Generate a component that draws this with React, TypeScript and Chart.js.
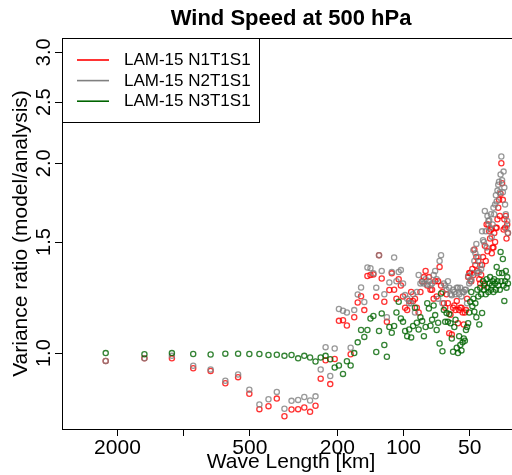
import React, { useEffect, useRef } from "react";
import { Chart, registerables } from "chart.js";

Chart.register(...registerables);

// Spectral wavenumbers of the LAM domain and the domain length (km)
const DOMAIN_KM = 4524;
const wavenumbers = [
  2, 3, 4, 5, 6, 7, 8, 9, 10,
  11, 12, 13, 14, 15, 16, 17, 18, 19, 20,
  21, 22, 23, 24, 25, 26, 27, 28, 29, 30,
  31, 32, 33, 34, 35, 36, 37, 38, 39, 40,
  41, 42, 43, 44, 45, 46, 47, 48, 49, 50,
  51, 52, 53, 54, 55, 56, 57, 58, 59, 60,
  61, 62, 63, 64, 65, 66, 67, 68, 69, 70,
  71, 72, 73, 74, 75, 76, 77, 78, 79, 80,
  81, 82, 83, 84, 85, 86, 87, 88, 89, 90,
  91, 92, 93, 94, 95, 96, 97, 98, 99, 100,
  101, 102, 103, 104, 105, 106, 107, 108, 109, 110,
  111, 112, 113, 114, 115, 116, 117, 118, 119, 120,
  121, 122, 123, 124, 125, 126, 127, 128, 129, 130,
  131, 132, 133, 134, 135,
];

const seriesNames = ["LAM-15 N1T1S1", "LAM-15 N2T1S1", "LAM-15 N3T1S1"];

const n1t1s1 = [
  0.972, 0.981, 0.981, 0.946, 0.937, 0.896, 0.916, 0.862, 0.815,
  0.824, 0.847, 0.794, 0.814, 0.815, 0.82, 0.807, 0.825, 0.911, 0.974,
  0.893, 0.979, 1.125, 1.128, 1.106, 0.996, 1.14, 1.203, 1.231, 1.17,
  1.325, 1.33, 1.333, 1.228, 1.43, 1.313, 1.206, 1.121, 1.259, 1.338,
  1.26, 1.22, 1.31, 1.28, 1.23, 1.18, 1.17, 1.21, 1.25, 1.21,
  1.22, 1.18, 1.16, 1.25, 1.3, 1.32, 1.35, 1.28, 1.32, 1.26,
  1.26, 1.22, 1.3, 1.23, 1.3, 1.37, 1.28, 1.25, 1.2, 1.18,
  1.24, 1.2, 1.075, 1.15, 1.07, 1.18, 1.19, 1.17, 1.21, 1.115,
  1.17, 1.18, 1.18, 1.16, 1.11, 1.16, 1.17, 1.22, 1.32, 1.34,
  1.34, 1.3, 1.36, 1.33, 1.46, 1.38, 1.42, 1.35, 1.4, 1.31,
  1.29, 1.33, 1.38, 1.42, 1.28, 1.48, 1.4, 1.6, 1.45, 1.6,
  1.56, 1.52, 1.57, 1.44, 1.47, 1.47, 1.55, 1.5, 1.58, 1.58,
  1.63, 1.7, 1.75, 1.65, 1.79, 2.0, 1.86, 1.75, 1.57, 1.63,
  1.58, 1.65, 1.52, 1.6, 1.55,
];

const n2t1s1 = [
  0.972, 0.981, 0.99, 0.955, 0.942, 0.904, 0.925, 0.875, 0.829,
  0.845, 0.868, 0.816, 0.84, 0.843, 0.852, 0.841, 0.854, 0.942, 1.022,
  0.92, 1.017, 1.175, 1.167, 1.16, 1.02, 1.17, 1.239, 1.271, 1.205,
  1.367, 1.363, 1.338, 1.27, 1.43, 1.35, 1.24, 1.14, 1.294, 1.345,
  1.418, 1.3, 1.345, 1.354, 1.29, 1.236, 1.22, 1.2, 1.2, 1.24,
  1.16, 1.25, 1.33, 1.29, 1.297, 1.29, 1.31, 1.285, 1.3, 1.28,
  1.29, 1.33, 1.35, 1.31, 1.22, 1.4, 1.43, 1.2, 1.29, 1.28,
  1.26, 1.3, 1.27, 1.24, 1.235, 1.26, 1.25, 1.24, 1.27, 1.27,
  1.24, 1.27, 1.23, 1.25, 1.25, 1.26, 1.26, 1.2, 1.325, 1.29,
  1.3, 1.31, 1.34, 1.456, 1.4, 1.44, 1.49, 1.34, 1.42, 1.345,
  1.38, 1.36, 1.56, 1.51, 1.5, 1.68, 1.56, 1.47, 1.65, 1.62,
  1.625, 1.58, 1.66, 1.53, 1.6, 1.7, 1.66, 1.72, 1.78, 1.74,
  1.81, 1.85, 1.87, 1.8, 1.92, 2.05, 1.88, 1.8, 1.94, 1.83,
  1.72, 1.66, 1.58, 1.62, 1.55,
];

const n3t1s1 = [
  1.0, 0.996, 1.0, 0.997, 0.995, 0.998, 0.998, 0.997, 0.997,
  0.993, 0.994, 0.99, 0.993, 0.981, 0.99, 0.984, 0.97, 0.984, 0.99,
  0.978, 0.949, 0.956, 0.927, 0.971, 0.956, 1.0, 1.04, 1.088, 1.061,
  1.088, 1.135, 1.145, 1.004, 1.084, 1.156, 1.03, 0.987, 1.1, 1.077,
  1.104, 1.16, 1.206, 1.135, 1.121, 1.084, 1.064, 1.09, 1.059, 1.104,
  1.18, 1.117, 1.09, 1.14, 1.124, 1.064, 1.1, 1.2, 1.177, 1.105,
  1.13, 1.19, 1.149, 1.088, 1.117, 1.036, 1.243, 1.007, 1.17, 1.121,
  1.158, 1.121, 1.153, 1.115, 1.055, 1.005, 1.1, 1.13, 1.02, 1.0,
  1.064, 1.03, 1.01, 1.04, 1.055, 1.046, 1.088, 1.1, 1.115, 1.16,
  1.206, 1.25, 1.187, 1.22, 1.163, 1.2, 1.14, 1.26, 1.23, 1.11,
  1.27, 1.24, 1.158, 1.3, 1.26, 1.29, 1.24, 1.31, 1.27, 1.25,
  1.29, 1.32, 1.26, 1.28, 1.3, 1.25, 1.31, 1.29, 1.26, 1.37,
  1.3, 1.28, 1.34, 1.26, 1.447, 1.3, 1.34, 1.41, 1.28, 1.21,
  1.3, 1.35, 1.27, 1.32, 1.29,
];

const xTickValues = [2000, 1000, 500, 200, 100, 50];
const xTickLabels = ["2000", "", "500", "200", "100", "50"];
const yTickValues = [1.0, 1.5, 2.0, 2.5, 3.0];
const yTickLabels = ["1.0", "1.5", "2.0", "2.5", "3.0"];

const FONT = "'Liberation Sans', Arial, Helvetica, sans-serif";

export default function App() {
  const ref = useRef<HTMLCanvasElement>(null);

  useEffect(() => {
    const canvas = ref.current;
    if (!canvas) return;

    const toPoints = (vals: number[]) =>
      vals.map((v, i) => ({ x: DOMAIN_KM / wavenumbers[i], y: v }));

    const framePlugin = {
      id: "frame",
      afterDraw(chart: any) {
        const { ctx, chartArea: a } = chart;
        ctx.save();
        ctx.strokeStyle = "#000";
        ctx.lineWidth = 1;
        ctx.strokeRect(Math.round(a.left) + 0.5, Math.round(a.top) + 0.5, a.right - a.left, a.bottom - a.top);
        ctx.restore();
      },
    };

    const yLabelPlugin = {
      id: "yLabels",
      afterDraw(chart: any) {
        const { ctx, chartArea: a } = chart;
        const ys = chart.scales.y;
        ctx.save();
        ctx.fillStyle = "#000";
        ctx.font = `20px ${FONT}`;
        ctx.textAlign = "center";
        ctx.textBaseline = "alphabetic";
        yTickValues.forEach((v, i) => {
          const py = ys.getPixelForValue(v);
          ctx.save();
          ctx.translate(a.left - 12, py);
          ctx.rotate(-Math.PI / 2);
          ctx.fillText(yTickLabels[i], 0, 0);
          ctx.restore();
        });
        ctx.restore();
      },
    };

    const legendPlugin = {
      id: "boxLegend",
      afterDatasetsDraw(chart: any) {
        const { ctx, chartArea: a } = chart;
        const x0 = Math.round(a.left);
        const y0 = Math.round(a.top);
        const w = 197;
        const h = 84;
        ctx.save();
        ctx.fillStyle = "#fff";
        ctx.fillRect(x0, y0, w, h);
        ctx.strokeStyle = "#000";
        ctx.lineWidth = 1;
        ctx.strokeRect(x0 + 0.5, y0 + 0.5, w, h);
        ctx.font = `17px ${FONT}`;
        ctx.textBaseline = "middle";
        ctx.textAlign = "left";
        chart.data.datasets.forEach((ds: any, i: number) => {
          const y = y0 + 22 + i * 20.6;
          ctx.strokeStyle = ds.legendColor;
          ctx.lineWidth = 1.6;
          ctx.beginPath();
          ctx.moveTo(x0 + 15, y);
          ctx.lineTo(x0 + 47, y);
          ctx.stroke();
          ctx.fillStyle = "#000";
          ctx.fillText(ds.label, x0 + 62, y + 0.5);
        });
        ctx.restore();
      },
    };

    const mk = (label: string, vals: number[], color: string, legendColor: string, order: number) => ({
      label,
      data: toPoints(vals),
      legendColor,
      order,
      showLine: false,
      pointStyle: "circle",
      pointRadius: 2.6,
      pointHoverRadius: 2.6,
      pointBorderWidth: 1.3,
      pointBorderColor: color,
      pointBackgroundColor: "rgba(0,0,0,0)",
      borderColor: color,
      backgroundColor: "rgba(0,0,0,0)",
    });

    const chart = new Chart(canvas, {
      type: "scatter",
      data: {
        datasets: [
          mk(seriesNames[0], n1t1s1, "rgba(255,0,0,0.8)", "#ff0000", 3),
          mk(seriesNames[1], n2t1s1, "rgba(128,128,128,0.8)", "#808080", 2),
          mk(seriesNames[2], n3t1s1, "rgba(0,100,0,0.8)", "#006400", 1),
        ] as any,
      },
      options: {
        animation: false,
        responsive: false,
        devicePixelRatio: 1,
        events: [],
        layout: { padding: { left: 0, right: 0, top: 0, bottom: 0 } },
        plugins: {
          legend: { display: false },
          tooltip: { enabled: false },
          title: {
            display: true,
            text: "Wind Speed at 500 hPa",
            color: "#000",
            fullSize: false,
            font: { family: FONT, size: 22, weight: "bold" },
            padding: { top: 6, bottom: 5.6 },
          },
        },
        scales: {
          x: {
            type: "logarithmic",
            reverse: true,
            min: 29.5,
            max: 3575,
            afterBuildTicks: (s: any) => {
              s.ticks = xTickValues.map((v) => ({ value: v }));
            },
            afterFit: (s: any) => {
              s.height = 46;
            },
            grid: {
              display: true,
              drawOnChartArea: false,
              drawTicks: true,
              tickLength: 7,
              tickColor: "#000",
              tickWidth: 1,
            },
            border: { display: false },
            ticks: {
              autoSkip: false,
              maxRotation: 0,
              minRotation: 0,
              padding: 0,
              color: "#000",
              font: { family: FONT, size: 21 },
              callback: (v: any) => {
                const k = xTickValues.indexOf(Number(v));
                return k >= 0 ? xTickLabels[k] : "";
              },
            },
            title: {
              display: true,
              text: "Wave Length [km]",
              color: "#000",
              font: { family: FONT, size: 21 },
              padding: { top: 0, bottom: 0 },
            },
          },
          y: {
            type: "logarithmic",
            min: 0.758,
            max: 3.16,
            afterBuildTicks: (s: any) => {
              s.ticks = yTickValues.map((v) => ({ value: v }));
            },
            afterFit: (s: any) => {
              s.width = 62;
            },
            grid: {
              display: true,
              drawOnChartArea: false,
              drawTicks: true,
              tickLength: 7,
              tickColor: "#000",
              tickWidth: 1,
            },
            border: { display: false },
            ticks: { display: false },
            title: {
              display: true,
              text: "Variance ratio (model/analysis)",
              color: "#000",
              font: { family: FONT, size: 21 },
              padding: { top: 8.6, bottom: 0 },
            },
          },
        },
      } as any,
      plugins: [framePlugin, yLabelPlugin, legendPlugin],
    });

    return () => chart.destroy();
  }, []);

  return (
    <div
      style={{
        position: "fixed",
        left: 0,
        top: 0,
        width: 512,
        height: 475,
        overflow: "hidden",
        background: "#fff",
      }}
    >
      <canvas ref={ref} width={524} height={475} style={{ display: "block" }} />
    </div>
  );
}
